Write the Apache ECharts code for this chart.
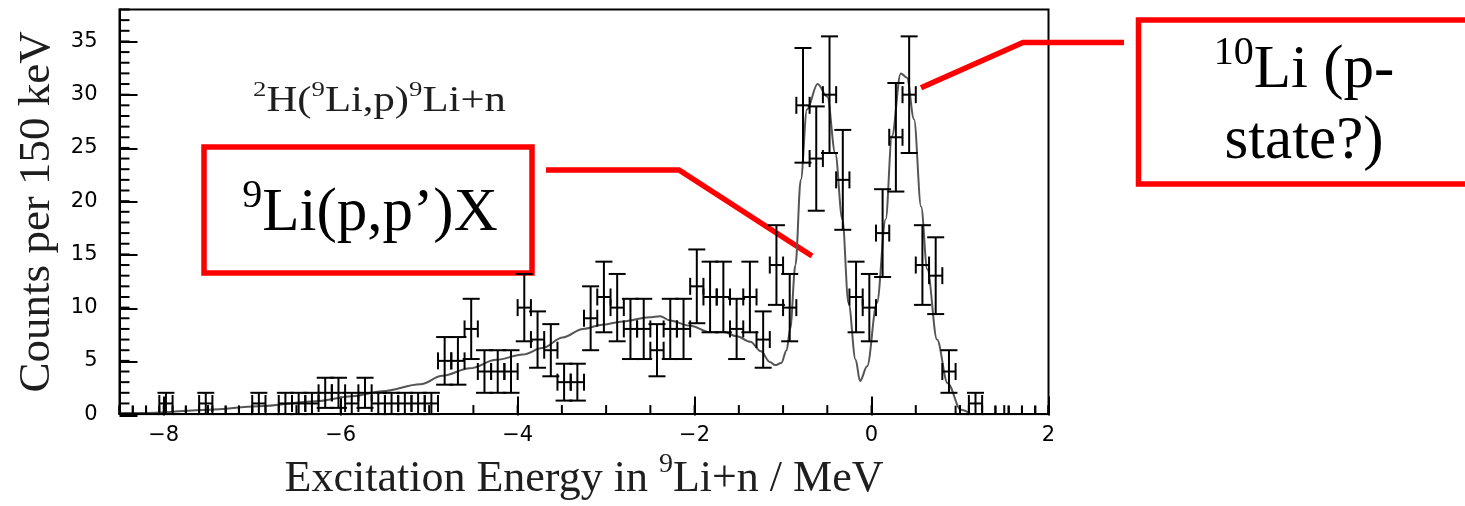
<!DOCTYPE html>
<html>
<head>
<meta charset="utf-8">
<title>9Li+n excitation energy spectrum</title>
<script src="https://cdn.jsdelivr.net/npm/echarts@6/dist/echarts.min.js"></script>
<style>
  html, body { margin: 0; padding: 0; background: #fff; }
  #chart { width: 1465px; height: 506px; }
</style>
</head>
<body>
<div id="chart"></div>
<script>
// Histogram binning (MeV): 70 bins of 150 keV from -8.5 to 2.0
const BIN_LOW = -8.5;
const BIN_WIDTH = 0.15;

// Counts per 150 keV bin, lowest energy first
const counts = [
  0, 0, 0, 1, 0, 0, 1, 0, 0, 0,
  1, 0, 1, 1, 1, 2, 2, 1, 2, 1,
  1, 1, 1, 1, 5, 5, 8, 4, 4, 4,
  10, 7, 6, 3, 3, 9, 11, 10, 8, 8,
  6, 8, 8, 12, 11, 11, 8, 11, 7, 14,
  10, 29, 24, 30, 22, 11, 10, 17, 26, 30,
  14, 13, 4, 0, 1, 0, 0, 0, 0, 0
];

// Fitted spectrum (energy in MeV, counts per bin)
const fitEnergy = [
  -8.5, -8.17, -7.49, -6.93, -6.28, -5.87, -5.53, -5.1, -4.85, -4.54,
  -4.24, -3.94, -3.72, -3.49, -3.26, -3.04, -2.81, -2.51, -2.39, -2.28,
  -2.05, -1.83, -1.67, -1.52, -1.37, -1.25, -1.15, -1.09, -1.02, -0.96,
  -0.92, -0.86, -0.80, -0.73, -0.61, -0.50, -0.41, -0.33, -0.26, -0.18,
  -0.13, -0.05, 0.06, 0.16, 0.23, 0.33, 0.40, 0.48, 0.56, 0.63,
  0.74, 0.86, 1.01, 1.12
];
const fitCounts = [
  0.1, 0.1, 0.42, 0.73, 1.2, 1.67, 2.14, 2.8, 3.6, 4.3,
  5.1, 5.6, 6.2, 7.2, 8.0, 8.4, 8.7, 9.1, 9.2, 8.8,
  8.3, 7.7, 7.7, 7.3, 6.8, 5.9, 4.9, 4.6, 4.8, 6.0,
  8.0, 14.0, 22.0, 28.6, 31.0, 29.8, 24.5, 18.3, 10.4, 5.1,
  3.1, 4.5, 10.4, 18.3, 26.1, 32.0, 31.6, 27.7, 19.5, 13.6,
  7.0, 2.9, 0.4, 0.0
];

// Labelled (major) ticks
const xMajorTicks = [-8, -6, -4, -2, 0, 2];
const yMajorTicks = [0, 5, 10, 15, 20, 25, 30, 35];
// Unlabelled (minor) ticks: every 0.5 MeV and every count
const xMinorTicks = Array.from({ length: 22 }, (_, i) => -8.5 + 0.5 * i);
const yMinorTicks = Array.from({ length: 39 }, (_, i) => i);

const X_MIN = -8.5, X_MAX = 2, Y_MIN = 0, Y_MAX = 38;

const binData = counts.map((n, k) => [BIN_LOW + BIN_WIDTH * (k + 0.5), n, Math.sqrt(n)]);
const fitData = fitEnergy.map((e, i) => [e, fitCounts[i]]);

const SERIF = "'Liberation Serif', 'Times New Roman', serif";
const SANS = "'DejaVu Sans', sans-serif";
const RED = '#ff0000';

// Poisson error bars with end caps on all four arms
function renderErrorBar(params, api) {
  const x = api.value(0), y = api.value(1), e = api.value(2);
  const half = BIN_WIDTH / 2;
  const cs = params.coordSys;
  const floorY = cs.y + cs.height;
  const c = api.coord([x, y]);
  const l = api.coord([x - half, y]);
  const r = api.coord([x + half, y]);
  const t = api.coord([x, y + e]);
  const b = api.coord([x, y - e]);
  const cap = 8.5;
  const style = { stroke: '#000', lineWidth: 2 };
  const cy = v => Math.min(v, floorY);
  const seg = (x1, y1, x2, y2) => ({
    type: 'line',
    shape: { x1: x1, y1: cy(y1), x2: x2, y2: cy(y2) },
    style: style
  });
  const children = [
    seg(l[0], c[1], r[0], c[1]),
    seg(l[0], c[1] - cap, l[0], c[1] + cap),
    seg(r[0], c[1] - cap, r[0], c[1] + cap)
  ];
  if (e > 0) {
    children.push(
      seg(c[0], t[1], c[0], b[1]),
      seg(c[0] - cap, t[1], c[0] + cap, t[1]),
      seg(c[0] - cap, b[1], c[0] + cap, b[1])
    );
  }
  return { type: 'group', children: children };
}

// Short inward tick marks on the bottom and left frame edges
const X_MINOR_LEN = 9, Y_MINOR_LEN = 10;
function renderXMinorTick(params, api) {
  const p = api.coord([api.value(0), Y_MIN]);
  return {
    type: 'line',
    shape: { x1: p[0], y1: p[1], x2: p[0], y2: p[1] - X_MINOR_LEN },
    style: { stroke: '#000', lineWidth: 2 }
  };
}
function renderYMinorTick(params, api) {
  const p = api.coord([X_MIN, api.value(1)]);
  return {
    type: 'line',
    shape: { x1: p[0], y1: p[1], x2: p[0] + Y_MINOR_LEN, y2: p[1] },
    style: { stroke: '#000', lineWidth: 2 }
  };
}

const chart = echarts.init(document.getElementById('chart'), null, { renderer: 'canvas' });

const axisLineStyle = { color: '#000', width: 2 };
const X_MAJOR_LEN = 19;
const Y_MAJOR_LEN = 18;
const plotBox = { left: 119.5, right: 416.5, top: 9.5, bottom: 90.5 };

// Long tick marks point into the frame: each set hangs outward from a copy of
// the plot box shifted inward by the tick length, so the marks end on the frame.
const shiftedBox = (dl, db) => ({
  left: plotBox.left + dl, right: plotBox.right,
  top: plotBox.top, bottom: plotBox.bottom + db, show: false
});

const option = {
  animation: false,
  backgroundColor: '#fff',
  grid: [
    Object.assign({ show: true, borderColor: '#000', borderWidth: 2, backgroundColor: 'transparent' }, plotBox),
    shiftedBox(Y_MAJOR_LEN, 0),
    shiftedBox(0, X_MAJOR_LEN)
  ],
  xAxis: [
    {
      gridIndex: 0, type: 'value', min: X_MIN, max: X_MAX, position: 'bottom',
      axisLine: { show: true, onZero: false, lineStyle: axisLineStyle },
      axisTick: { show: false },
      axisLabel: {
        customValues: xMajorTicks, margin: 11,
        fontFamily: SANS, fontSize: 21, color: '#000',
        formatter: v => String(v).replace('-', '\u2212')
      },
      splitLine: { show: false },
      name: '{t|Excitation Energy in }{s|9}{t|Li+n / MeV}',
      nameLocation: 'middle', nameGap: 20,
      nameTextStyle: {
        rich: {
          t: { fontFamily: SERIF, fontSize: 44, color: '#1e1e1e', verticalAlign: 'bottom', lineHeight: 50 },
          s: { fontFamily: SERIF, fontSize: 28, color: '#1e1e1e', verticalAlign: 'top', lineHeight: 24 }
        }
      }
    },
    { gridIndex: 1, type: 'value', min: X_MIN, max: X_MAX, show: false },
    {
      gridIndex: 2, type: 'value', min: X_MIN, max: X_MAX, position: 'bottom',
      axisLine: { show: false, onZero: false },
      axisTick: { show: true, inside: false, length: X_MAJOR_LEN, customValues: xMajorTicks, lineStyle: axisLineStyle },
      axisLabel: { show: false },
      splitLine: { show: false }
    }
  ],
  yAxis: [
    {
      gridIndex: 0, type: 'value', min: Y_MIN, max: Y_MAX, position: 'left',
      axisLine: { show: true, onZero: false, lineStyle: axisLineStyle },
      axisTick: { show: false },
      axisLabel: { customValues: yMajorTicks, margin: 22, fontFamily: SANS, fontSize: 21, color: '#000' },
      splitLine: { show: false },
      name: 'Counts per 150 keV',
      nameLocation: 'middle', nameRotate: 90, nameGap: 60,
      nameTextStyle: { fontFamily: SERIF, fontSize: 45, color: '#1e1e1e' }
    },
    {
      gridIndex: 1, type: 'value', min: Y_MIN, max: Y_MAX, position: 'left',
      axisLine: { show: false, onZero: false },
      axisTick: { show: true, inside: false, length: Y_MAJOR_LEN, customValues: yMajorTicks, lineStyle: axisLineStyle },
      axisLabel: { show: false },
      splitLine: { show: false }
    },
    { gridIndex: 2, type: 'value', min: Y_MIN, max: Y_MAX, show: false }
  ],
  series: [
    {
      type: 'line', name: 'fit', xAxisIndex: 0, yAxisIndex: 0,
      data: fitData, smooth: 0.35, smoothMonotone: 'x', showSymbol: false, symbol: 'none',
      lineStyle: { color: '#555', width: 2 }, z: 2
    },
    {
      type: 'custom', name: 'counts', xAxisIndex: 0, yAxisIndex: 0,
      data: binData, encode: { x: 0, y: 1 },
      renderItem: renderErrorBar, z: 3
    },
    {
      type: 'custom', name: 'x minor ticks', xAxisIndex: 0, yAxisIndex: 0, silent: true,
      data: xMinorTicks.map(v => [v, Y_MIN]), encode: { x: 0, y: 1 },
      renderItem: renderXMinorTick, z: 4
    },
    {
      type: 'custom', name: 'y minor ticks', xAxisIndex: 0, yAxisIndex: 0, silent: true,
      data: yMinorTicks.map(v => [X_MIN, v]), encode: { x: 0, y: 1 },
      renderItem: renderYMinorTick, z: 4
    }
  ],
  graphic: [
    {
      type: 'text', x: 253, y: 99, scaleX: 1.22,
      style: {
        text: '{s|2}{t|H(}{s|9}{t|Li,p)}{s|9}{t|Li+n}',
        verticalAlign: 'middle', align: 'left',
        rich: {
          t: { fontFamily: SERIF, fontSize: 35, fill: '#1e1e1e', verticalAlign: 'bottom', lineHeight: 40 },
          s: { fontFamily: SERIF, fontSize: 22, fill: '#1e1e1e', verticalAlign: 'top', lineHeight: 18 }
        }
      }
    },
    // left annotation box and its pointer
    {
      type: 'rect', shape: { x: 204, y: 147, width: 328, height: 126 },
      style: { stroke: RED, lineWidth: 5.5, fill: null }
    },
    {
      type: 'polyline', shape: { points: [[546, 170], [679, 170], [812, 256]] },
      style: { stroke: RED, lineWidth: 5.5, fill: null }
    },
    {
      type: 'text', x: 370, y: 210,
      style: {
        text: '{s|9}{t|Li(p,p\u2019)X}',
        align: 'center', verticalAlign: 'middle',
        rich: {
          t: { fontFamily: SERIF, fontSize: 61, fill: '#000', verticalAlign: 'bottom', lineHeight: 68 },
          s: { fontFamily: SERIF, fontSize: 40, fill: '#000', verticalAlign: 'top', lineHeight: 30 }
        }
      }
    },
    // right annotation box (runs off the right edge) and its pointer
    {
      type: 'rect', shape: { x: 1138.5, y: 20, width: 400, height: 164 },
      style: { stroke: RED, lineWidth: 5.5, fill: null }
    },
    {
      type: 'polyline', shape: { points: [[1124, 42.5], [1023, 42.5], [921, 87.7]] },
      style: { stroke: RED, lineWidth: 5.5, fill: null }
    },
    {
      type: 'text', x: 1304, y: 67,
      style: {
        text: '{s|10}{t|Li (p-}',
        align: 'center', verticalAlign: 'middle',
        rich: {
          t: { fontFamily: SERIF, fontSize: 61, fill: '#000', verticalAlign: 'bottom', lineHeight: 68 },
          s: { fontFamily: SERIF, fontSize: 40, fill: '#000', verticalAlign: 'top', lineHeight: 30 }
        }
      }
    },
    {
      type: 'text', x: 1304, y: 142,
      style: {
        text: 'state?)', align: 'center', verticalAlign: 'middle',
        fontFamily: SERIF, fontSize: 61, fill: '#000'
      }
    }
  ]
};

chart.setOption(option);
</script>
</body>
</html>
